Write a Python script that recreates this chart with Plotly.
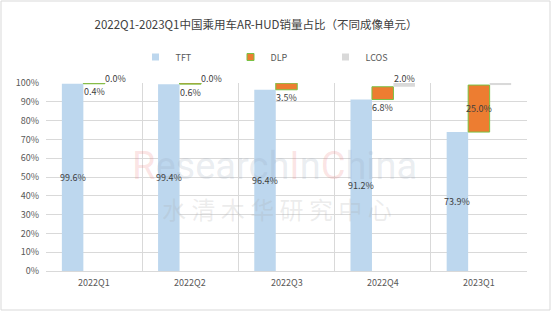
import plotly.graph_objects as go

categories = ["2022Q1", "2022Q2", "2022Q3", "2022Q4", "2023Q1"]
tft = [99.6, 99.4, 96.4, 91.2, 73.9]
dlp = [0.4, 0.6, 3.5, 6.8, 25.0]
lcos = [0.0, 0.0, None, 2.0, 1.2]
series_names = ["TFT", "DLP", "LCOS"]
title_text = "2022Q1-2023Q1中国乘用车AR-HUD销量占比（不同成像单元）"

W, H = 552, 317
ML, MR, MT, MB = 46, 25, 83, 46
BARGAP = 0.33
FONT = "Noto Sans CJK SC, Microsoft YaHei, sans-serif"
C_TFT, C_DLP, C_DLP_LINE, C_LCOS = "#BDD7EE", "#ED7D31", "#7AC143", "#D9D9D9"
TXT = "#404040"

idx = list(range(len(categories)))
tft_f = [v / 100 for v in tft]
dlp_f = [v / 100 for v in dlp]
lcos_f = [None if v is None else v / 100 for v in lcos]
dlp_base = tft_f
lcos_base = [a + b for a, b in zip(tft_f, dlp_f)]

fig = go.Figure()
fig.add_trace(go.Bar(x=idx, y=tft_f, name="TFT", marker=dict(color=C_TFT, line=dict(width=0)),
                     showlegend=False))
fig.add_trace(go.Bar(x=idx, y=dlp_f, base=dlp_base, name="DLP",
                     marker=dict(color=C_DLP, line=dict(color=C_DLP_LINE, width=1)), showlegend=False))
fig.add_trace(go.Bar(x=idx, y=lcos_f, base=lcos_base, name="LCOS",
                     marker=dict(color=C_LCOS, line=dict(width=0)), showlegend=False))

# legend entries with small square markers
for nm, col, lc in [("TFT", C_TFT, C_TFT), ("DLP", C_DLP, C_DLP_LINE), ("LCOS", C_LCOS, C_LCOS)]:
    fig.add_trace(go.Scatter(x=[None], y=[None], mode="markers", name=nm,
                             marker=dict(symbol="square", size=7, color=col,
                                         line=dict(color=lc, width=1 if nm == "DLP" else 0))))

w = (1 - BARGAP) / 3
ann = []
lab_font = dict(family=FONT, size=9, color=TXT)

# watermarks (drawn first so labels sit on top)
pw, ph = W - ML - MR, H - MT - MB
def px2paper(px, py):
    return (px - ML) / pw, (H - MB - py) / ph

wx, wy = px2paper(274, 142)
red = "rgba(235,120,120,0.2)"
gry = "rgba(150,165,185,0.2)"
wm = (f"<span style='color:{red}'>R</span><span style='color:{gry}'>esearch</span>"
      f"<span style='color:{red}'>I</span><span style='color:{gry}'>n</span>"
      f"<span style='color:{red}'>C</span><span style='color:{gry}'>hina</span>")
ann.append(dict(x=wx, y=wy, xref="paper", yref="paper", text=wm, showarrow=False,
                font=dict(family="Liberation Sans Narrow, Roboto, sans-serif", size=38)))
cx, cy = px2paper(277, 208)
ann.append(dict(x=cx, y=cy, xref="paper", yref="paper", yanchor="middle",
                text="水 清 木 华 研 究 中 心", showarrow=False,
                font=dict(family="Noto Sans CJK SC", size=24, color="rgba(170,170,170,0.22)")))

for i in idx:
    ann.append(dict(x=i - w, y=tft_f[i] / 2, text=f"{tft[i]:.1f}%", showarrow=False,
                    font=lab_font, xref="x", yref="y"))
    if dlp[i] >= 10:
        ann.append(dict(x=i, y=dlp_base[i] + dlp_f[i] / 2, text=f"{dlp[i]:.1f}%",
                        showarrow=False, font=lab_font, xref="x", yref="y"))
    else:
        ann.append(dict(x=i, y=dlp_base[i], yshift=-8, text=f"{dlp[i]:.1f}%",
                        showarrow=False, font=lab_font, xref="x", yref="y"))
    if lcos[i] is not None:
        ann.append(dict(x=i + w, y=lcos_base[i] + lcos_f[i], yshift=5, text=f"{lcos[i]:.1f}%",
                        showarrow=False, font=lab_font, xref="x", yref="y"))

x0, y0 = px2paper(1, 310)
x1, y1 = px2paper(550, 1)
shapes = [dict(type="rect", xref="paper", yref="paper", x0=x0, y0=y0, x1=x1, y1=y1,
               line=dict(color="#D9D9D9", width=1), fillcolor="rgba(0,0,0,0)", layer="below")]

lx, ly = px2paper(278, 57)
fig.update_layout(
    width=W, height=H,
    margin=dict(l=ML, r=MR, t=MT, b=MB),
    paper_bgcolor="white", plot_bgcolor="white",
    barmode="group", bargap=BARGAP, bargroupgap=0,
    font=dict(family=FONT, size=9, color="#595959"),
    title=dict(text=title_text, x=256 / W, xanchor="center", y=1 - 25 / H, yanchor="middle",
               font=dict(family=FONT, size=11.5, color=TXT)),
    legend=dict(orientation="h", x=lx, xanchor="center", y=ly, yanchor="middle",
                font=dict(family=FONT, size=9, color="#595959"),
                itemwidth=30, entrywidth=50, entrywidthmode="pixels", bgcolor="rgba(0,0,0,0)"),
    xaxis=dict(type="linear", range=[-0.5, len(categories) - 0.5],
               tickvals=[i - 0.5 for i in range(len(categories) + 1)], ticktext=[""] * (len(categories) + 1),
               showgrid=True, gridcolor="#D9D9D9", gridwidth=1, zeroline=False,
               showline=True, linecolor="#D9D9D9", ticks="", fixedrange=True),
    yaxis=dict(range=[0, 1], tickvals=[i / 10 for i in range(11)], tickformat=".0%",
               showgrid=True, gridcolor="#D9D9D9", zeroline=False, showline=False, ticks="",
               ticklabelstandoff=6, tickfont=dict(size=9, color="#595959")),
    annotations=ann + [dict(x=i, y=0, yshift=-11, xref="x", yref="y", text=c, showarrow=False,
                            font=dict(family=FONT, size=9, color="#595959"))
                       for i, c in zip(idx, categories)],
    shapes=shapes,
)
fig.write_html("out.html")
